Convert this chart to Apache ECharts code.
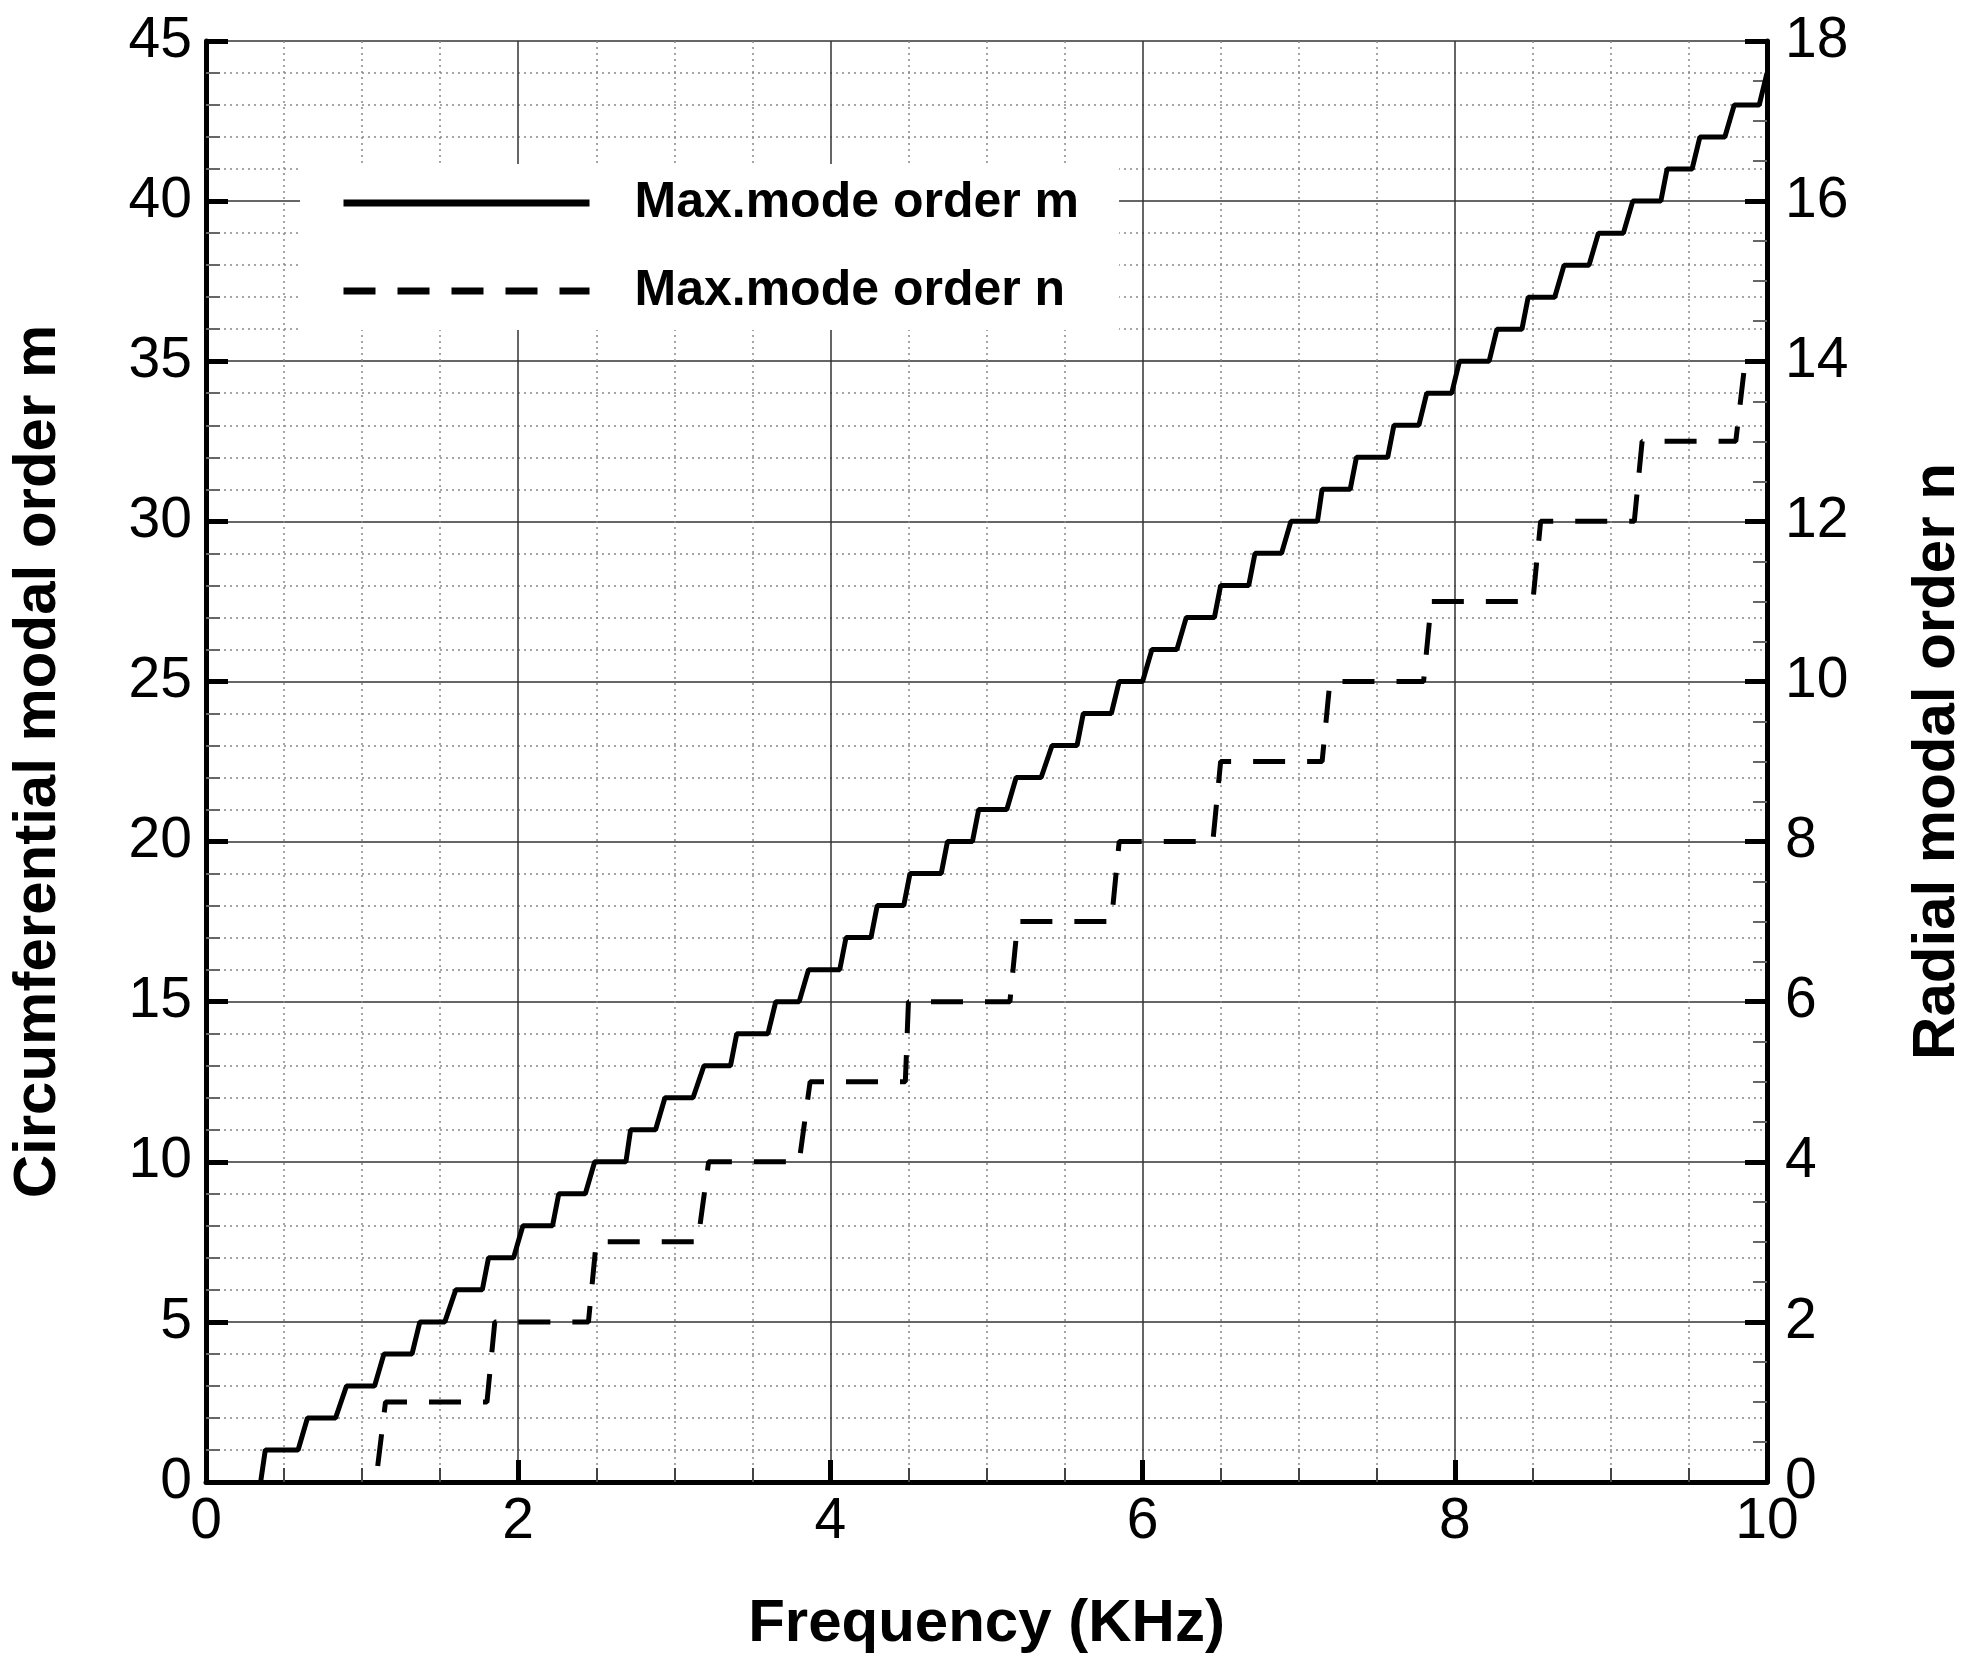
<!DOCTYPE html>
<html><head><meta charset="utf-8">
<script src="https://cdn.jsdelivr.net/npm/echarts@6/dist/echarts.min.js"></script>
<style>html,body{margin:0;background:#fff}#c{width:1975px;height:1659px}</style>
</head><body><div id="c"></div>
<script>
// step start/end frequencies (kHz) for each level of m (level = index+1)
const mStart = [0.38,0.65,0.90,1.14,1.37,1.60,1.81,2.03,2.26,2.49,2.72,2.94,3.19,3.40,3.65,3.86,4.10,4.30,4.51,4.75,4.95,5.19,5.42,5.62,5.85,6.06,6.28,6.50,6.72,6.95,7.15,7.37,7.61,7.82,8.03,8.27,8.47,8.70,8.92,9.14,9.36,9.57,9.79];
const mEnd   = [0.59,0.83,1.08,1.32,1.53,1.77,1.97,2.22,2.43,2.69,2.88,3.12,3.36,3.60,3.80,4.06,4.26,4.47,4.71,4.91,5.13,5.35,5.58,5.80,6.00,6.22,6.46,6.68,6.89,7.12,7.33,7.57,7.77,7.98,8.22,8.43,8.64,8.86,9.08,9.32,9.52,9.73,9.95];
// n levels 1..13
const nStart = [1.15,1.85,2.50,3.22,3.87,4.50,5.20,5.85,6.50,7.20,7.85,8.55,9.20];
const nEnd   = [1.80,2.45,3.15,3.80,4.48,5.15,5.80,6.45,7.15,7.80,8.50,9.15,9.80];
const xTicks = [0,2,4,6,8,10];

const mData = [[0.35,0]];
mStart.forEach((s,i)=>{mData.push([s,i+1]);mData.push([mEnd[i],i+1]);});
mData.push([10.0,44]);
const nData = [[1.10,0.2]];
nStart.forEach((s,i)=>{nData.push([s,i+1]);nData.push([nEnd[i],i+1]);});
nData.push([9.86,14]);

const F='"Liberation Sans", Arial, sans-serif';
const lab={fontFamily:F,fontSize:57,color:'#000'};
const nameS={fontFamily:F,fontSize:60,fontWeight:'bold',color:'#000'};
const chart=echarts.init(document.getElementById('c'));
chart.setOption({
  animation:false,
  grid:{left:198,right:190,top:41,bottom:165},
  legend:{orient:'vertical',left:300,top:164,itemWidth:246,itemHeight:24,itemGap:38,
    backgroundColor:'#fff',padding:[14,40,14,40],
    itemStyle:{opacity:0},
    lineStyle:{width:7},
    textStyle:{fontFamily:F,fontSize:50,fontWeight:'bold',color:'#000',padding:[0,0,0,40]},
    data:['Max.mode order m','Max.mode order n']},
  xAxis:{type:'value',min:0,max:10,interval:2,name:'Frequency (KHz)',nameLocation:'middle',nameGap:112,nameTextStyle:nameS,
    axisLine:{lineStyle:{color:'#000',width:5}},
    axisTick:{inside:true,length:22,lineStyle:{color:'#000',width:5}},
    minorTick:{show:true,splitNumber:4,length:14,lineStyle:{color:'#444',width:2}},
    axisLabel:Object.assign({margin:12,formatter:v=>xTicks.includes(v)?String(v):''},lab),
    splitLine:{show:true,lineStyle:{color:'#333',width:1.5}},
    minorSplitLine:{show:true,lineStyle:{color:'#888',width:1.5,type:[2,4]}}},
  yAxis:[
    {type:'value',min:0,max:45,interval:5,name:'Circumferential modal order m',nameLocation:'middle',nameGap:138,nameTextStyle:nameS,
     axisLine:{show:true,lineStyle:{color:'#000',width:5}},
     axisTick:{show:true,inside:true,length:22,lineStyle:{color:'#000',width:5}},
     minorTick:{show:true,splitNumber:5,length:14,lineStyle:{color:'#666',width:2}},
     axisLabel:Object.assign({margin:14},lab),
     splitLine:{show:true,lineStyle:{color:'#333',width:1.5}},
     minorSplitLine:{show:true,lineStyle:{color:'#888',width:1.5,type:[2,4]}}},
    {type:'value',min:0,max:18,interval:2,position:'right',name:'Radial modal order n',nameLocation:'middle',nameGap:140,nameRotate:90,nameTextStyle:nameS,
     axisLine:{show:true,lineStyle:{color:'#000',width:5}},
     axisTick:{show:true,inside:true,length:22,lineStyle:{color:'#000',width:5}},
     minorTick:{show:true,splitNumber:4,length:14,lineStyle:{color:'#666',width:2}},
     axisLabel:Object.assign({margin:18},lab),
     splitLine:{show:false}}
  ],
  series:[
    {name:'Max.mode order m',type:'line',data:mData,showSymbol:false,symbol:'none',yAxisIndex:0,
     lineStyle:{color:'#000',width:5},itemStyle:{color:'#000'},z:5},
    {name:'Max.mode order n',type:'line',data:nData,showSymbol:false,symbol:'none',yAxisIndex:1,
     lineStyle:{color:'#000',width:5,type:[32,22]},itemStyle:{color:'#000'},z:5}
  ]
});
</script></body></html>
